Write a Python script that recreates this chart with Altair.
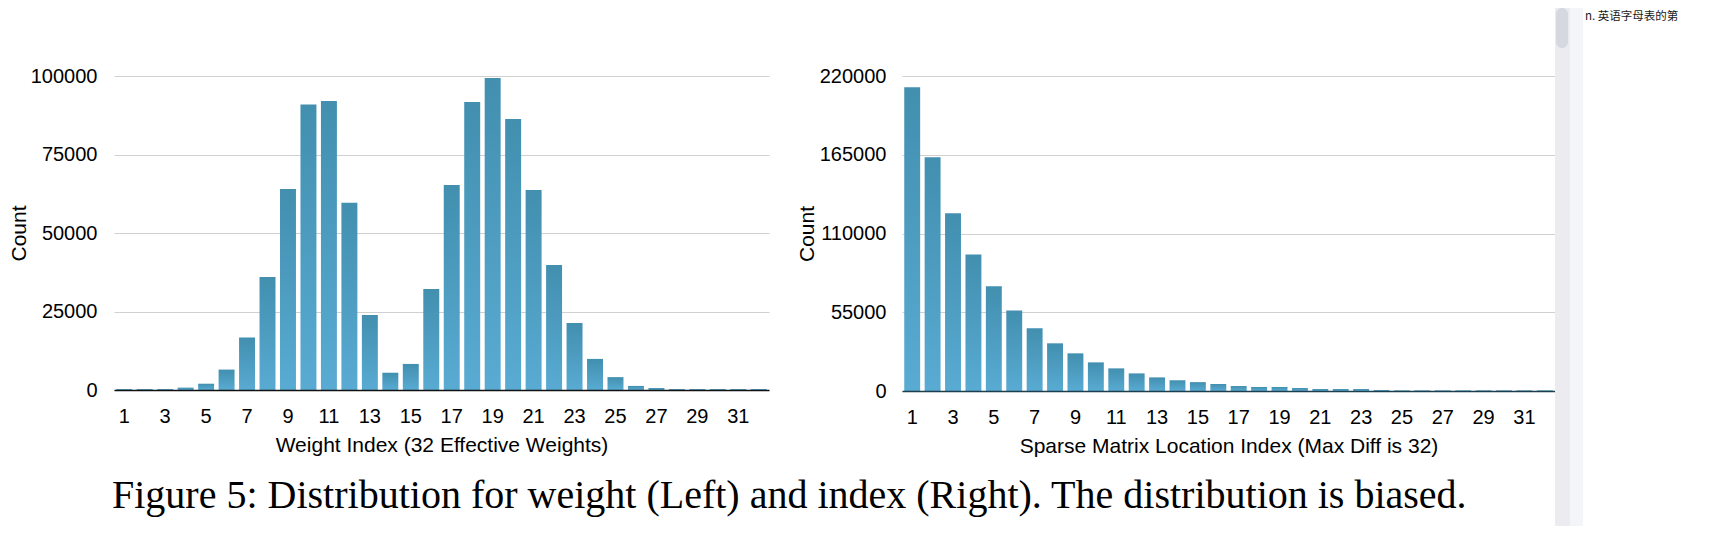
import altair as alt
import pandas as pd

# ---------------- data ----------------
weight_index = list(range(1, 33))
weight_counts = [300, 300, 300, 750, 2000, 6500, 16700, 36000, 64000, 90900,
                 92000, 59600, 23900, 5500, 8300, 32200, 65300, 91700, 99400, 86300,
                 63700, 39800, 21300, 9900, 4100, 1300, 640, 300, 300, 300,
                 300, 300]

location_index = list(range(1, 33))
location_counts = [212100, 163200, 124100, 95400, 73100, 56300, 43800, 33300, 26300, 20000,
                   15800, 12300, 9500, 7500, 6200, 4900, 3500, 2800, 2800, 2100,
                   1400, 1400, 1400, 700, 450, 450, 450, 450, 450, 450,
                   450, 450]

left_y_ticks = [0, 25000, 50000, 75000, 100000]
right_y_ticks = [0, 55000, 110000, 165000, 220000]
x_tick_labels = list(range(1, 32, 2))

left_x_title = "Weight Index (32 Effective Weights)"
right_x_title = "Sparse Matrix Location Index (Max Diff is 32)"
y_title = "Count"
caption = "Figure 5: Distribution for weight (Left) and index (Right). The distribution is biased."
side_text = ["n. 英语字母表的第"]

# ---------------- styling ----------------
SANS = "Liberation Sans"
SERIF = "Liberation Serif"
bar_gradient = {
    "gradient": "linear",
    "x1": 0, "y1": 0, "x2": 0, "y2": 1,
    "stops": [
        {"offset": 0, "color": "#428faf"},
        {"offset": 1, "color": "#59abd3"},
    ],
}


def panel(df, xfield, yfield, xtitle, yticks, ymax, width, height, label_pad, domain_color):
    return alt.Chart(df).mark_bar(color=bar_gradient).encode(
        x=alt.X(
            f"{xfield}:O",
            title=xtitle,
            scale=alt.Scale(paddingInner=0.22, paddingOuter=0.11),
            axis=alt.Axis(
                values=x_tick_labels, labelAngle=0, ticks=False, grid=False,
                labelPadding=16, minExtent=36, maxExtent=36, titlePadding=8,
                domainColor=domain_color, domainWidth=1.6, zindex=1,
                labelFont=SANS, labelFontSize=20, labelColor="#000",
                titleFont=SANS, titleFontSize=21, titleFontWeight="normal", titleColor="#000",
            ),
        ),
        y=alt.Y(
            f"{yfield}:Q",
            title=y_title,
            scale=alt.Scale(domain=[0, ymax], nice=False),
            axis=alt.Axis(
                values=yticks, format="d", ticks=False, domain=False,
                labelPadding=label_pad, minExtent=84, maxExtent=84, titlePadding=1,
                gridColor="#d0d0d0", gridWidth=1.2,
                labelFont=SANS, labelFontSize=20, labelColor="#000",
                titleFont=SANS, titleFontSize=21, titleFontWeight="normal", titleColor="#000",
            ),
        ),
    ).properties(width=width, height=height)


left_df = pd.DataFrame({"idx": weight_index, "count": weight_counts})
right_df = pd.DataFrame({"idx": location_index, "count": location_counts})

left = panel(left_df, "idx", "count", left_x_title, left_y_ticks, 100000, 655, 314, 17, "#111111")
right = panel(right_df, "idx", "count", right_x_title, right_y_ticks, 220000, 653, 315, 16, "#1c3e4e")

row = alt.hconcat(left, right, spacing=27)

spacer = alt.Chart(pd.DataFrame({"a": [0]})).mark_rect(opacity=0).encode(
    x=alt.value(0), x2=alt.value(10), y=alt.value(0), y2=alt.value(58)
).properties(width=10, height=58)

caption_chart = alt.Chart(pd.DataFrame({"t": [caption]})).mark_text(
    align="left", baseline="alphabetic", font=SERIF, fontSize=40, color="#000"
).encode(
    x=alt.value(-2), y=alt.value(52), text="t:N"
).properties(width=1440, height=60)

column = alt.vconcat(spacer, row, caption_chart, spacing=0)

# browser scrollbar strip and side panel seen at the right of the screenshot
track = alt.Chart(pd.DataFrame({"a": [0]})).mark_rect(color="#ebebf0").encode(
    x=alt.value(0), x2=alt.value(15), y=alt.value(0), y2=alt.value(518)
)
gutter = alt.Chart(pd.DataFrame({"a": [0]})).mark_rect(color="#f4f5f8").encode(
    x=alt.value(15), x2=alt.value(28), y=alt.value(0), y2=alt.value(518)
)
thumb = alt.Chart(pd.DataFrame({"a": [0]})).mark_rect(color="#d5d8df", cornerRadius=6).encode(
    x=alt.value(1), x2=alt.value(13), y=alt.value(0), y2=alt.value(40)
)
scroll = alt.layer(track, gutter, thumb).properties(width=28, height=518)

side = alt.Chart(pd.DataFrame({"t": side_text})).mark_text(
    align="left", baseline="top", font="Noto Sans CJK SC", fontSize=11.5, color="#1a1a1a"
).encode(
    x=alt.value(2), y=alt.value(3), text="t:N"
).properties(width=117, height=518)

chart = alt.hconcat(column, scroll, side, spacing=0).properties(
    padding=0, background="white"
).configure_view(strokeWidth=0)

chart.save("out.html", embed_options={"renderer": "svg", "actions": False})
